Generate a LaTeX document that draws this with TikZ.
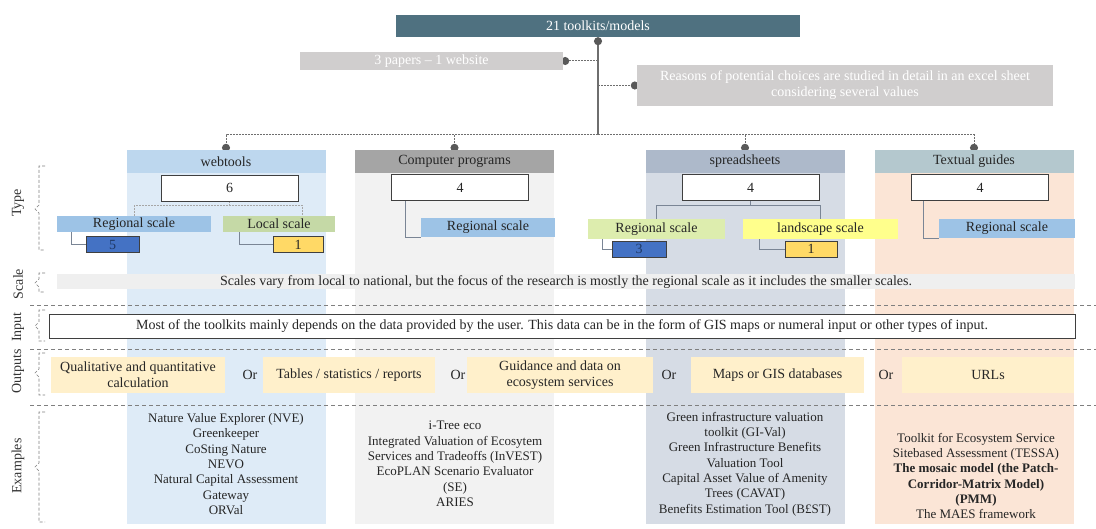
\documentclass[tikz,border=0pt]{standalone}
\usepackage{fontspec}
\setmainfont{Liberation Serif}
\usetikzlibrary{positioning,arrows.meta}

\definecolor{topteal}{HTML}{4F7180}
\definecolor{paleg}{HTML}{D0CECE}
\definecolor{wiregray}{HTML}{6E6E6E}
\definecolor{dotgray}{HTML}{595959}
\definecolor{webhead}{HTML}{BDD7EE}
\definecolor{webbg}{HTML}{DEEBF7}
\definecolor{comphead}{HTML}{A5A5A5}
\definecolor{compbg}{HTML}{F2F2F2}
\definecolor{spreadhead}{HTML}{ADB9CA}
\definecolor{spreadbg}{HTML}{D6DCE5}
\definecolor{texthead}{HTML}{B4C8CE}
\definecolor{textbg}{HTML}{FBE5D6}
\definecolor{regblue}{HTML}{9DC3E6}
\definecolor{locgreen}{HTML}{C5D9A6}
\definecolor{sprgreen}{HTML}{DDEDAE}
\definecolor{landyellow}{HTML}{FFFF8C}
\definecolor{countblue}{HTML}{4472C4}
\definecolor{navy}{HTML}{1F3864}
\definecolor{countyellow}{HTML}{FFD966}
\definecolor{outfill}{HTML}{FFF0CB}
\definecolor{scalegray}{HTML}{EFEFEF}
\definecolor{darkline}{HTML}{3F3F3F}
\definecolor{slate}{HTML}{7A8595}
\definecolor{sepgray}{HTML}{7F7F7F}

\pgfdeclarelayer{bg}
\pgfdeclarelayer{wire}
\pgfsetlayers{bg,wire,main}

\begin{document}
\begin{tikzpicture}[x=1pt, y=-1pt,
    txt/.style={inner sep=0pt, align=center, text=black!85, font=\fontsize{14}{16}\selectfont},
    head/.style={txt, minimum width=199pt, minimum height=23pt},
    colbg/.style={inner sep=0pt, minimum width=199pt, minimum height=351pt, below=0pt of #1},
    numbox/.style={txt, fill=white, draw=darkline, line width=0.9pt, minimum width=137pt, minimum height=26pt},
    scalebox/.style={txt, minimum height=18pt},
    countbox/.style={txt, draw=darkline, line width=0.8pt, minimum height=16pt},
    outbox/.style={txt, fill=outfill, minimum height=36pt},
    rowlab/.style={font=\fontsize{14}{16}\selectfont, text=black!80, rotate=90},
    example/.style={align=center, text=black!85, font=\fontsize{13}{15.3}\selectfont},
    trunk/.style={draw=wiregray, line width=1.4pt},
    branch/.style={draw=wiregray, line width=1pt, dash pattern=on 2pt off 1pt, -{Circle[length=8pt, color=dotgray]}, shorten >=-2pt},
    webwire/.style={draw=gray!70, line width=0.8pt, dash pattern=on 2pt off 1pt},
    elbow/.style={draw=slate, line width=0.9pt},
    sep/.style={draw=sepgray, dash pattern=on 4pt off 3pt, line width=0.7pt},
    brace/.style={draw=sepgray, dash pattern=on 3pt off 2pt, line width=0.7pt},
]
\useasboundingbox (0,0) rectangle (1096,529);

\node[txt, fill=topteal, text=white, minimum width=404pt, minimum height=22pt] (top) at (598,26) {21 toolkits/models};
\node[txt, fill=paleg, text=white, minimum width=263pt, minimum height=18pt] (papers) at (431.5,61) {3 papers -- 1 website};
\node[txt, fill=paleg, text=white, minimum width=416pt, minimum height=41pt] (reasons) at (845,85.5) {Reasons of potential choices are studied in detail in an excel sheet\\considering several values};
\coordinate (hub) at (598,135);

\node[head, fill=webhead] (hweb) at (226,161.5) {webtools};
\node[head, fill=comphead] (hcomp) at (454.5,161.5) {Computer programs};
\node[head, fill=spreadhead] (hspread) at (745,161.5) {spreadsheets};
\node[head, fill=texthead] (htext) at (974,161.5) {Textual guides};

\begin{pgfonlayer}{bg}
\node[colbg=hweb, fill=webbg] (cweb) {};
\node[colbg=hcomp, fill=compbg] (ccomp) {};
\node[colbg=hspread, fill=spreadbg] (cspread) {};
\node[colbg=htext, fill=textbg] (ctext) {};
\end{pgfonlayer}

\node[numbox] (nweb) at (229.5,188) {6};
\node[numbox] (ncomp) at (460,187.5) {4};
\node[numbox] (nspread) at (750.5,187.5) {4};
\node[numbox] (ntext) at (980,187.5) {4};

\node[scalebox, fill=regblue, minimum width=154pt, minimum height=16pt] (wreg) at (134,224) {Regional scale};
\node[scalebox, fill=locgreen, minimum width=112pt, minimum height=16pt] (wloc) at (279,224) {Local scale};
\node[countbox, fill=countblue, text=navy, minimum width=53pt] (wfive) at (112.5,244.5) {5};
\node[countbox, fill=countyellow, minimum width=50pt] (wone) at (298,244.5) {1};
\node[scalebox, fill=regblue, minimum width=134pt, minimum height=19pt] (creg) at (488,227.5) {Regional scale};
\node[scalebox, fill=sprgreen, minimum width=137pt, minimum height=20pt] (sreg) at (656.5,229) {Regional scale};
\node[countbox, fill=countblue, text=navy, minimum width=54pt] (sthree) at (639,249) {3};
\node[scalebox, fill=landyellow, minimum width=155pt, minimum height=20pt] (sland) at (820.5,229) {landscape scale};
\node[countbox, fill=countyellow, minimum width=52pt] (sone) at (811,249) {1};
\node[scalebox, fill=regblue, minimum width=136pt, minimum height=19pt] (treg) at (1007,228.5) {Regional scale};

\node[txt, fill=scalegray, minimum width=1018pt, minimum height=15pt] (scaleband) at (566,282) {Scales vary from local to national, but the focus of the research is mostly the regional scale as it includes the smaller scales.};
\node[txt, fill=white, draw=darkline, line width=0.9pt, minimum width=1026pt, minimum height=24pt] (inputbox) at (562,326) {Most of the toolkits mainly depends on the data provided by the user. This data can be in the form of GIS maps or numeral input or other types of input.};

\node[outbox, minimum width=174pt] (out1) at (138,375) {Qualitative and quantitative\\calculation};
\node[txt] (or1) at (250,375) {Or};
\node[outbox, minimum width=172pt] (out2) at (349,375) {Tables / statistics / reports};
\node[txt] (or2) at (458,375) {Or};
\node[outbox, minimum width=186pt] (out3) at (560,375) {Guidance and data on\\ecosystem services};
\node[txt] (or3) at (669,375) {Or};
\node[outbox, minimum width=173pt] (out4) at (777.5,375) {Maps or GIS databases};
\node[txt] (or4) at (886,375) {Or};
\node[outbox, minimum width=172pt] (out5) at (988,375) {URLs};

\node[example] (exweb) at (226,464) {Nature Value Explorer (NVE)\\Greenkeeper\\CoSting Nature\\NEVO\\Natural Capital Assessment\\Gateway\\ORVal};
\node[example] (excomp) at (455,464) {i-Tree eco\\Integrated Valuation of Ecosytem\\Services and Tradeoffs (InVEST)\\EcoPLAN Scenario Evaluator\\(SE)\\ARIES};
\node[example] (exspread) at (745,464) {Green infrastructure valuation\\toolkit (GI-Val)\\Green Infrastructure Benefits\\Valuation Tool\\Capital Asset Value of Amenity\\Trees (CAVAT)\\Benefits Estimation Tool (B£ST)};
\node[example] (extext) at (976,476) {Toolkit for Ecosystem Service\\Sitebased Assessment (TESSA)\\\textbf{The mosaic model (the Patch-}\\\textbf{Corridor-Matrix Model)}\\\textbf{(PMM)}\\The MAES framework};

\node[rowlab] (ltype) at (18,203) {Type};
\node[rowlab] (lscale) at (18,284) {Scale};
\node[rowlab] (linput) at (18,327) {Input};
\node[rowlab] (loutputs) at (18,371) {Outputs};
\node[rowlab] (lexamples) at (18,466) {Examples};

\foreach \a/\m/\b in {166/209/250, 273/283/292, 310/326/341, 353/373/395, 412/467/522}
  \draw[brace] (45,\a) -- (39,\a) -- (39,\m-4) -- (35,\m) -- (39,\m+4) -- (39,\b) -- (45,\b);
\foreach \y in {305,349,405}
  \draw[sep] (30,\y) -- (1096,\y);

\begin{pgfonlayer}{wire}
\draw[trunk, {Circle[length=8pt, color=dotgray]}-] (top.south) -- (hub);
\draw[branch] (top.south |- papers.east) -- (papers.east);
\draw[branch] (top.south |- reasons.west) -- (reasons.west);
\draw[branch] (hub) -| (hweb.north);
\draw[branch] (hub) -| (hcomp.north);
\draw[branch] (hub) -| (hspread.north);
\draw[branch] (hub) -| (htext.north);
\draw[webwire] (nweb.south) -- ++(0,4) -| (wreg.north);
\draw[webwire] (nweb.south) -- ++(0,4) -| ([xshift=23pt]wloc.north);
\draw[elbow] ([xshift=15pt]wreg.south west) |- (wfive.west);
\draw[elbow] ([xshift=17pt]wloc.south west) |- (wone.west);
\draw[elbow] ([xshift=14pt]ncomp.south west) |- (creg.south west);
\draw[elbow] (nspread.south) -- ++(0,5) -| (sreg.north);
\draw[elbow] (nspread.south) -- ++(0,5) -| (sland.north);
\draw[elbow] ([xshift=15pt]sreg.south west) |- (sthree.west);
\draw[elbow] ([xshift=17pt]sland.south west) |- (sone.west);
\draw[elbow] ([xshift=12pt]ntext.south west) |- (treg.south west);
\end{pgfonlayer}
\end{tikzpicture}
\end{document}
